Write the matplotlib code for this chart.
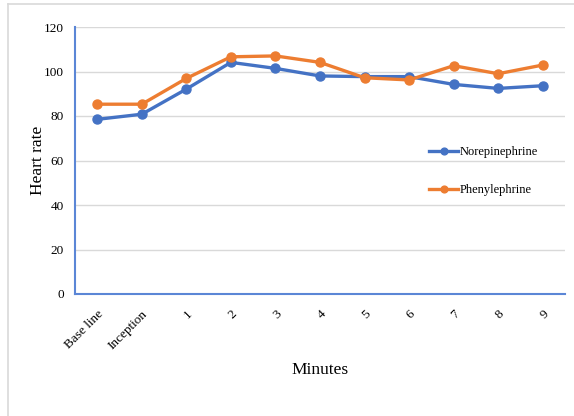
import matplotlib
matplotlib.use("Agg")
import matplotlib.pyplot as plt
from matplotlib.lines import Line2D

categories = ["Base line", "Inception", "1", "2", "3", "4", "5", "6", "7", "8", "9"]
norepinephrine = [78.5, 80.8, 92.1, 104.1, 101.4, 98.0, 97.7, 97.7, 94.2, 92.4, 93.6]
phenylephrine = [85.3, 85.3, 96.9, 106.6, 107.0, 104.1, 97.2, 96.2, 102.6, 99.0, 102.9]
y_ticks = [0, 20, 40, 60, 80, 100, 120]

W, H = 574, 416
fig = plt.figure(figsize=(W / 100, H / 100), dpi=100)
serif = "Liberation Serif"

ax = fig.add_axes([75 / W, 1 - 294 / H, (565 - 75) / W, (294 - 27) / H])
x = list(range(len(categories)))
blue = "#4472C4"
orange = "#ED7D31"
ax.plot(x, norepinephrine, color=blue, lw=2.4, marker="o", ms=6.5, label="Norepinephrine", zorder=3)
ax.plot(x, phenylephrine, color=orange, lw=2.4, marker="o", ms=6.5, label="Phenylephrine", zorder=3)

ax.set_xlim(-0.5, len(categories) - 0.5)
ax.set_ylim(0, 120)
ax.set_yticks(y_ticks)
ax.set_yticklabels([str(v) for v in y_ticks], fontfamily=serif, fontsize=9.5)
ax.set_xticks(x)
ax.set_xticklabels(categories, rotation=45, ha="right", rotation_mode="anchor",
                   fontfamily=serif, fontsize=9.5)
ax.tick_params(length=0, pad=8)
ax.tick_params(axis="x", pad=10)
ax.grid(axis="y", color="#D9D9D9", lw=1.0)
ax.set_axisbelow(True)
for side in ["top", "right"]:
    ax.spines[side].set_visible(False)
for side in ["left", "bottom"]:
    ax.spines[side].set_color("#5B86D6")
    ax.spines[side].set_linewidth(1.5)

fig.text(38 / W, 1 - 160 / H, "Heart rate", rotation=90, ha="center", va="center",
         fontfamily=serif, fontsize=12.5)
fig.text(320 / W, 1 - 370 / H, "Minutes", ha="center", va="center",
         fontfamily=serif, fontsize=12.5)

leg = fig.legend(loc="upper left", bbox_to_anchor=(418 / W, 1 - 135 / H), frameon=False,
                 prop={"family": serif, "size": 9}, labelspacing=2.1,
                 handlelength=2.3, handletextpad=0.15, markerscale=0.75)

# outer frame
fig.add_artist(Line2D([8.0 / W, 8.0 / W], [0, 1 - 4 / H], color="#D9D9D9", lw=1.2))
fig.add_artist(Line2D([8.0 / W, 1], [1 - 4 / H, 1 - 4 / H], color="#D9D9D9", lw=1.2))

fig.savefig("out.png", dpi=100, facecolor="white")
